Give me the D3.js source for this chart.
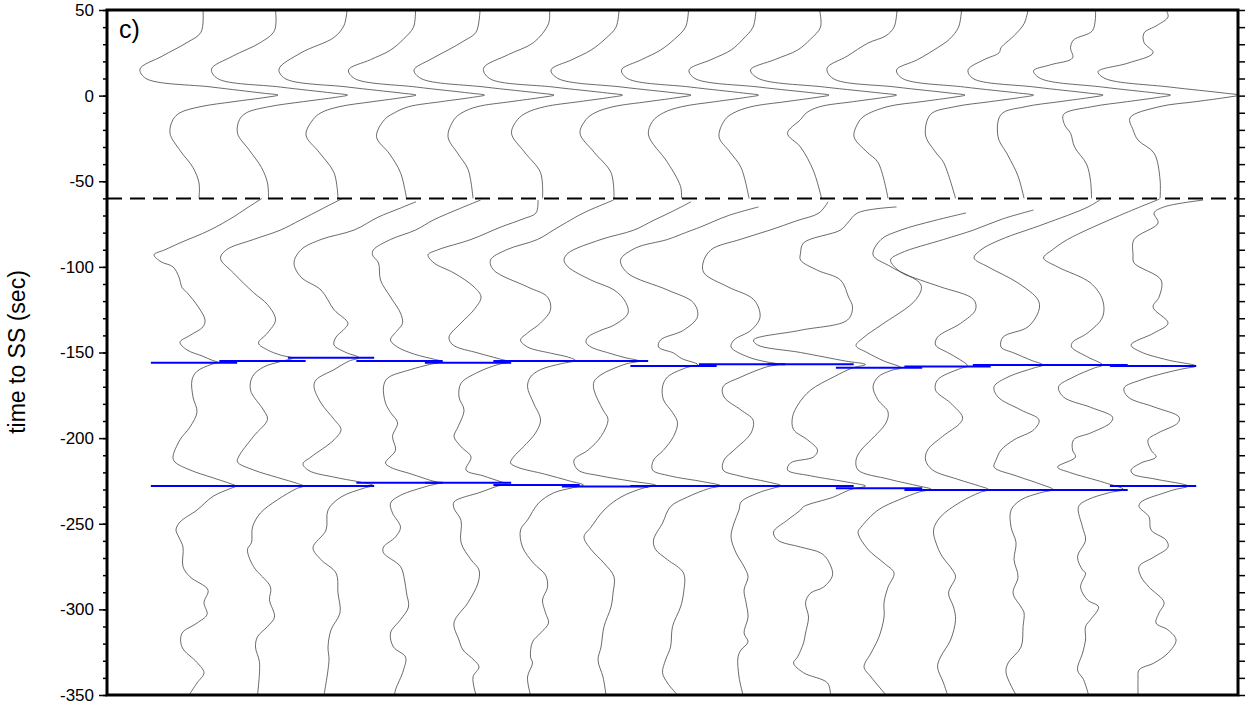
<!DOCTYPE html>
<html>
<head>
<meta charset="utf-8">
<title>time to SS</title>
<script src="https://d3js.org/d3.v7.min.js"></script>
<style>
  body { margin: 0; background: #fff; }
  svg { display: block; font-family: "Liberation Sans", Arial, sans-serif; }
</style>
</head>
<body>
<svg width="1245" height="707"></svg>
<script>
// trace numbers (left to right) and picked arrival times (sec, relative to SS)
var tracePos = [1, 2, 3, 4, 5, 6, 7, 8, 9, 10, 11, 12, 13, 14, 15];
var s400Times = [-156, -155, -153, -155, -156, -155, -155, -157.9, -156.9, -156.9, -158.9, -158.2, -157.3, -157.3, -157.9];
var s670Times = [-228, -228, -228, -226, -226, -227.4, -228.3, -228, -228, -228, -229.3, -230.3, -230.3, -230.3, -228];
var yTicks = [50, 0, -50, -100, -150, -200, -250, -300, -350];
var windowSplit = -60;

// waveform samples: [time (sec), amplitude (counts)] -- SS window
var up1 = [[50,9],[37,7],[31,-7],[23,-32],[15.5,-54],[10,-48],[5,18],[1.5,68],[0.3,84],[-1,72],[-3.5,40],[-6.5,6],[-10,-14],[-14,-21],[-22,-24],[-32,-14],[-42,-1],[-51,5],[-60,5]];
var up2 = [[50,13],[38,12],[31,-2],[23,-30],[15.5,-51],[10,-45],[5,18],[1.5,70],[0.3,85],[-1,73],[-3.5,41],[-6.5,6],[-10,-16],[-14,-23],[-22,-25],[-32,-13],[-42,-1],[-51,5],[-60,6]];
var up3 = [[50,16],[41,13],[34,3],[25,-30],[15.5,-52],[10,-46],[5,17],[1.5,70],[0.3,85],[-1,73],[-3.5,42],[-6.5,8],[-10,-10],[-14,-18],[-23,-25],[-33,-12],[-45,3],[-60,7]];
var up4 = [[50,16],[40,14],[33,4],[26.6,-9],[21,-29],[15,-51],[10,-45],[5,17],[1.5,70],[0.3,85],[-1,73],[-3.5,42],[-6.5,9],[-10,-5],[-14,-15],[-24,-23],[-34,-10],[-45,1],[-60,7]];
var up5 = [[50,12],[37,8],[32,-4],[26.6,-20],[21,-38],[15,-54],[10,-47],[5,17],[1.5,71],[0.3,86],[-1,74],[-3.5,43],[-6.5,9],[-10,-6],[-14,-14],[-24,-20],[-34,-10],[-43,0],[-60,5]];
var up6 = [[50,13],[42,12],[31,-3],[24,-28],[16,-53],[10,-47],[5,17],[1.5,71],[0.3,86],[-1,74],[-3.5,43],[-6.5,8],[-10,-10],[-14,-19],[-22,-25],[-33,-12],[-45,4],[-60,6]];
var up7 = [[50,14],[40,11],[33,0],[26.6,-14],[21,-33],[15,-54],[10,-47],[5,17],[1.5,71],[0.3,86],[-1,74],[-3.5,43],[-6.5,8],[-10,-10],[-14,-19],[-22,-25],[-33,-11],[-45,6],[-60,9]];
var up8 = [[50,15],[40,12],[33,1],[26.6,-13],[21,-32],[15,-52],[10,-46],[5,17],[1.5,70],[0.3,85],[-1,73],[-3.5,42],[-6.5,8],[-10,-10],[-15,-21],[-23,-25],[-39,-6],[-53,7],[-60,8]];
var up9 = [[50,14],[40,11],[33,1],[26.6,-11],[21,-31],[15,-53],[10,-47],[5,17],[1.5,72],[0.3,87],[-1,75],[-3.5,44],[-6.5,9],[-10,-8],[-14,-17],[-24,-23],[-33,-12],[-42,-1],[-60,7]];
var up10 = [[50,9],[40,10],[33,0],[26.6,-13],[21,-36],[15,-60],[10,-52],[5,14],[1.5,70],[0.3,86],[-1,74],[-3.5,43],[-6.5,9],[-10,-4],[-14,-10],[-22,-23],[-30,-10],[-44,3],[-60,11]];
var up11 = [[50,18],[40,15],[35,7],[30.7,-11],[23,-32],[16,-52],[10,-46],[5,17],[1.5,71],[0.3,86],[-1,74],[-3.5,43],[-6.5,8],[-12,-15],[-16,-21],[-24,-25],[-33,-12],[-39,-1],[-60,9]];
var up12 = [[50,14],[40,11],[33,2],[28,-10],[21,-30],[15,-51],[10,-45],[5,17],[1.5,71],[0.3,86],[-1,74],[-3.5,43],[-6.5,7],[-11,-17],[-23,-22],[-33,-12],[-39,-4],[-60,8]];
var up13 = [[50,12],[42,8],[35,-2],[28,-15],[25,-17],[21,-32],[15,-48],[10,-43],[5,19],[1.5,72],[0.3,87],[-1,75],[-3.5,44],[-6.5,9],[-11,-15],[-24,-18],[-35,-8],[-47,2],[-60,8]];
var up14 = [[50,11],[38,8],[32.5,-11],[28,-14],[22,-12],[18,-34],[14.5,-51],[10,-44],[5,18],[1.5,71],[0.3,86],[-1,74],[-3.5,43],[-6.5,7],[-11,-21],[-17,-20],[-22,-14],[-30,-10],[-40,2],[-50,6],[-60,7]];
var up15 = [[50,13],[46,15],[41,4],[36.6,-9],[31,-9],[25,0],[19,-25],[14,-55],[10,-48],[5,17],[1.5,71],[0.3,86],[-1,74],[-3.5,43],[-6.5,6],[-13,-23],[-20,-20],[-26,-15],[-33.6,1],[-49,7],[-60,7]];

// precursor window
var lo1 = [[-60,68],[-66,52],[-71,39],[-78.5,16],[-86,-14],[-90,-29],[-93,-40],[-97,-33],[-100,-21],[-106,-15],[-112,-12],[-115,-7],[-124,5],[-131,11],[-135,9],[-140,-4],[-144,-14],[-148.5,-7],[-152,8],[-154.5,18],[-155.8,24],[-157,17],[-161,3],[-166,-2],[-176,-1],[-184.7,3],[-193.5,-4],[-201,-14],[-211,-21],[-214,-19],[-218.6,-4],[-223,18],[-226.5,36],[-228,42],[-229.5,36],[-234,19],[-242,3],[-249,-14],[-253.6,-18],[-258,-15],[-263.6,-11],[-275,-11],[-281,-4],[-288.7,14],[-296,10],[-303,13],[-308,3],[-314,-12],[-322,-12],[-331,3],[-337,10],[-343,3],[-350,-5]];
var lo2 = [[-60,80],[-66,60],[-72.6,38],[-78.5,18],[-84,-9],[-90,-36],[-95,-42],[-103.6,-29],[-115,-9],[-122,5],[-131,13],[-138.6,5],[-144.5,-4],[-148.5,5],[-151.5,18],[-153.3,30],[-155,20],[-158.5,1],[-164,-10],[-172,-12],[-183.6,1],[-189,5],[-199,-9],[-211,-24],[-214,-25],[-218.6,-9],[-223,15],[-226.5,35],[-228,41],[-229.5,34],[-236,15],[-243.7,-2],[-251.9,-10],[-261,-11],[-265,-15],[-275,-9],[-287,8],[-294.5,7],[-304.5,12],[-310,5],[-316,-5],[-322,-7],[-331,-3],[-350,-5]];
var lo3 = [[-62,85],[-66,68],[-71,47],[-78.5,23],[-84,-10],[-90,-30],[-97.7,-37],[-106,-30],[-113.5,-10],[-125,3],[-133,17],[-137,12],[-141,5],[-145.6,3],[-150,15],[-153,28],[-155,18],[-160,3],[-166,-15],[-170,-17],[-179.5,-10],[-189,3],[-195,10],[-201,3],[-211,-20],[-215,-28],[-219,-22],[-223,5],[-226,32],[-227.6,42],[-229.2,33],[-234.4,10],[-242,-3],[-253.7,-5],[-264,-18],[-271,-10],[-278.8,5],[-290.5,7],[-302,9],[-312,0],[-322,-3],[-329.6,-2],[-350,-7]];
var lo4 = [[-61,81],[-66,60],[-72.6,34],[-78.5,16],[-84,-9],[-90,-26],[-93,-27],[-97.7,-21],[-107.7,-19],[-117.6,-9],[-127,1],[-133,3],[-137,-2],[-142.7,-9],[-146.8,-2],[-151,15],[-154,35],[-155.3,43],[-157,30],[-160,11],[-165,-12],[-170,-16],[-179.5,-14],[-185,-9],[-191,-2],[-199,-7],[-207,-4],[-214.5,-14],[-217,-9],[-221,12],[-224.5,30],[-226.2,39],[-228,28],[-233.4,1],[-238,-9],[-243.7,-7],[-252,1],[-257.7,-4],[-263.6,-16],[-267,-16],[-275,1],[-282.8,5],[-290.5,7],[-298.6,9],[-306,1],[-313.8,-9],[-322,-6],[-327.8,6],[-335.4,4],[-347,-4],[-350,-5]];
var lo5 = [[-61,70],[-68.5,68],[-72,55],[-76.7,33],[-84,3],[-90,-30],[-93,-40],[-97.7,-34],[-103.6,-14],[-111.7,6],[-117.6,13],[-125,6],[-132.8,-7],[-141,-19],[-145.6,-15],[-150.3,10],[-153.5,30],[-155.5,41],[-157,30],[-161.5,10],[-168,-7],[-176,-9],[-183.6,-4],[-193.5,-10],[-199,-14],[-205,-7],[-211,3],[-218.6,-2],[-222,15],[-225.3,32],[-226.5,38],[-228.3,28],[-231.5,13],[-237.3,-14],[-241,-14],[-248,-7],[-261,-7],[-271,3],[-277,11],[-284.6,10],[-296,0],[-307.8,-14],[-317.9,-9],[-323.7,-5],[-329.6,6],[-333.6,11],[-339.5,5],[-350,8]];
var lo6 = [[-61,77],[-68.5,47],[-74,30],[-78.5,17],[-84,1],[-90,-30],[-96,-46],[-101.8,-43],[-111.7,-9],[-117.6,11],[-125,14],[-132.8,4],[-138.6,-9],[-142.7,-16],[-146.8,-9],[-150.5,15],[-152.6,31],[-154.6,39],[-156.5,25],[-160,4],[-164.3,-6],[-170,-9],[-179.5,-3],[-189.4,4],[-197,-1],[-205,-13],[-211,-23],[-214.5,-26],[-217,-19],[-221,8],[-225,33],[-227.4,47],[-229,36],[-232,17],[-238,2],[-247.8,-9],[-253.6,-16],[-263.6,-14],[-273,-3],[-280,9],[-287,11],[-294.5,6],[-302,9],[-308,12],[-313.8,4],[-319,-4],[-327.8,-6],[-331.3,-4],[-339.5,-9],[-350,-6]];
var lo7 = [[-62,86],[-68,66],[-73,48],[-78.5,29],[-84,-4],[-92,-37],[-96,-41],[-100,-37],[-107.7,-14],[-113.5,9],[-120,20],[-127,23],[-134,9],[-137,-4],[-141,-17],[-144,-19],[-146.8,-14],[-150.5,5],[-153,20],[-155,34],[-156.5,22],[-160,6],[-163,-4],[-167,-11],[-172,-11],[-183.6,-2],[-189,3],[-199,-4],[-207,-17],[-212.8,-31],[-218.6,-27],[-222,-5],[-225,25],[-227.6,51],[-229.2,38],[-234.4,16],[-242,-1],[-252,-14],[-257.7,-21],[-265,-14],[-273,-1],[-281,9],[-290.5,8],[-298.6,6],[-310,-1],[-322,-4],[-329.6,-7],[-339.5,-2],[-350,1]];
var lo8 = [[-65,85],[-70,55],[-76.7,27],[-80,12],[-84,-6],[-89,-38],[-96,-53],[-103.6,-46],[-113.5,-6],[-121,20],[-129,24],[-137,10],[-142.7,-13],[-146.8,-15],[-150.3,0],[-153.5,8],[-157,24],[-159,12],[-164.3,-6],[-170,-11],[-177.7,-10],[-185,-1],[-191,4],[-199,0],[-207,-10],[-212.8,-20],[-218.6,-21],[-222,-4],[-225.5,30],[-227.8,47],[-229.5,35],[-234.4,14],[-240,-3],[-249.6,-11],[-259.5,-20],[-265,-18],[-271,-6],[-278.8,10],[-290.5,10],[-298.6,7],[-310,-1],[-322,-3],[-329.6,-8],[-337,-11],[-343,-6],[-350,4]];
var lo9 = [[-62,86],[-68.5,77],[-73,55],[-78.5,28],[-84,-2],[-90,-31],[-97.7,-39],[-103.6,-38],[-111.7,-14],[-119.3,12],[-129.3,18],[-137,9],[-142.7,-8],[-146.8,-11],[-152.6,6],[-155.2,22],[-156.9,36],[-158.5,24],[-164.3,-1],[-170,-19],[-176,-18],[-183.6,-1],[-189.4,11],[-197,9],[-207,-8],[-212.8,-18],[-218.6,-19],[-222,-3],[-225.5,25],[-227.8,39],[-229.4,30],[-232,16],[-237.3,-1],[-242,-3],[-249.6,-8],[-257.7,-11],[-267,-6],[-275,2],[-281,6],[-288.7,2],[-296,4],[-304.5,6],[-313.8,2],[-319,6],[-323.7,-1],[-327.8,-4],[-339.5,-3],[-350,1]];
var lo10 = [[-65,86],[-68.5,47],[-74.4,37],[-78.5,30],[-86,-7],[-92,-10],[-96,-10],[-102,7],[-107.7,30],[-117.6,38],[-123.5,42],[-131,37],[-137,-10],[-142.7,-57],[-145.6,-53],[-150,-10],[-155,35],[-157,55],[-159,42],[-164.3,23],[-172,0],[-180,-12],[-187.6,-18],[-195,-17],[-201,-3],[-207,7],[-211,3],[-214.5,-20],[-218.6,-23],[-222,0],[-226,40],[-228,55],[-230,40],[-234.4,23],[-240,-7],[-242,-10],[-247.8,-23],[-254.8,-37],[-259.5,-33],[-263.6,-10],[-267,10],[-271,17],[-279.9,22],[-287,13],[-290.5,0],[-296,-5],[-304.5,-2],[-313.8,-5],[-319.6,-7],[-327.8,-13],[-331.3,-17],[-337,-7],[-343,17],[-350,20]];
var lo11 = [[-68.5,87],[-73,55],[-78.5,22],[-84,2],[-93,-6],[-100,12],[-110.6,42],[-119,37],[-134,2],[-141,-15],[-146,-23],[-150,-12],[-155,5],[-158.9,22],[-160.5,12],[-164.3,-1],[-170,-6],[-177.7,-1],[-184.7,9],[-191,7],[-201,-8],[-207,-18],[-212.8,-23],[-218.6,-21],[-224,10],[-228,40],[-229.8,52],[-231.5,40],[-236,20],[-242,-1],[-252,-18],[-255,-21],[-265,-11],[-273,5],[-278.8,15],[-287,9],[-296,5],[-304.5,5],[-316,0],[-325.5,-8],[-333.6,-15],[-339.5,-8],[-350,7]];
var lo12 = [[-66.8,86],[-72,55],[-78.5,26],[-84,-4],[-92,-47],[-96,-57],[-103,-47],[-107.7,-27],[-111.7,-7],[-119,26],[-125,28],[-133,13],[-141,-10],[-145.6,-12],[-150,0],[-154,12],[-157.8,20],[-159.5,12],[-166,-10],[-172,-12],[-179.5,3],[-187.7,15],[-191,13],[-199,-5],[-207,-20],[-212.8,-22],[-218.6,-15],[-224,10],[-228,32],[-230,41],[-231.8,32],[-237.3,13],[-246,-7],[-253.6,-14],[-263.6,-10],[-269.4,-5],[-277,5],[-281,8],[-290.5,1],[-298.6,6],[-306,8],[-317.9,3],[-327.8,-7],[-333.6,-10],[-343,-4],[-350,0]];
var lo13 = [[-60.4,85],[-65,72],[-75,28],[-84,-15],[-90,-35],[-94.8,-42],[-100,-28],[-109.4,2],[-119.3,22],[-125,23],[-135,12],[-141,-13],[-146.8,-15],[-150.3,-2],[-154.5,15],[-157.3,27],[-159,18],[-164.3,-8],[-170,-22],[-176,-18],[-183.6,5],[-189.4,23],[-195,18],[-201,-2],[-207,-15],[-212.8,-20],[-216.9,-22],[-222,0],[-227,25],[-230,37],[-231.8,25],[-236,5],[-242,-5],[-252,-5],[-261,0],[-271,-2],[-281,2],[-290.5,-3],[-298.6,5],[-302,8],[-310,7],[-322,5],[-331.3,-8],[-337,-10],[-350,0]];
var lo14 = [[-60.4,75],[-70,35],[-84,-17],[-90,-32],[-94.8,-41],[-100,-27],[-109.4,6],[-119.3,18],[-129.3,18],[-138.6,3],[-144,-12],[-146.8,-13],[-152.6,3],[-157.3,18],[-159,10],[-164.3,-11],[-170,-26],[-176,-21],[-182,6],[-187.7,28],[-191,26],[-197,6],[-201,-11],[-207,-12],[-211,-9],[-216.9,-27],[-220,-15],[-226,20],[-230,39],[-231.8,25],[-236,3],[-240,-6],[-252,-2],[-259.5,1],[-269.4,-7],[-277,-2],[-278.8,1],[-287,-4],[-294.5,3],[-298.6,14],[-306,6],[-310,1],[-317.9,1],[-325.5,-2],[-335.4,-7],[-341,-1],[-350,4]];
var lo15 = [[-61,50],[-65,11],[-68.5,1],[-74.4,5],[-84,-19],[-93,-20],[-97.7,-19],[-107.7,8],[-117.6,6],[-123.5,0],[-132.8,15],[-138.6,1],[-145.6,-22],[-149.7,-12],[-154.4,15],[-157.9,43],[-159.5,30],[-162.1,11],[-166,-12],[-170.7,-29],[-176,-25],[-181.8,1],[-187.7,26],[-191,25],[-197,5],[-201,-5],[-207,-2],[-211,3],[-214.5,-12],[-218.6,-22],[-221,-20],[-224,3],[-228,35],[-230,22],[-232,11],[-237.3,-12],[-240,-14],[-246,-4],[-253.6,-2],[-259.5,13],[-263.6,15],[-269.4,1],[-275,-14],[-281,-12],[-287,-4],[-296,11],[-302,6],[-308,3],[-312,15],[-317.9,23],[-325.5,15],[-331.3,1],[-335.4,-14],[-341,-15],[-350,-15]];

var upperWaves = [up1, up2, up3, up4, up5, up6, up7, up8, up9, up10, up11, up12, up13, up14, up15];
var lowerWaves = [lo1, lo2, lo3, lo4, lo5, lo6, lo7, lo8, lo9, lo10, lo11, lo12, lo13, lo14, lo15];

var gain = 68.5;       // amplitude counts per trace spacing
var pickHalf = 0.63;   // half length of pick bars, in trace spacings

var svg = d3.select('svg');
var margin = {left: 107, top: 10, right: 1238, bottom: 695};

var y = d3.scaleLinear().domain([50, -350]).range([margin.top, margin.bottom]);
var x = d3.scaleLinear().domain([-0.27, 16.24]).range([margin.left, margin.right]);

svg.append('clipPath').attr('id', 'plot')
	.append('rect')
	.attr('x', margin.left).attr('y', margin.top)
	.attr('width', margin.right - margin.left)
	.attr('height', margin.bottom - margin.top);

var traces = svg.append('g').attr('clip-path', 'url(#plot)');

function waveLine(p) {
	return d3.line()
		.x(function(d) { return x(p + d[1] / gain); })
		.y(function(d) { return y(d[0]); })
		.curve(d3.curveCatmullRom.alpha(0.5));
}

tracePos.forEach(function(p, i) {
	[upperWaves[i], lowerWaves[i]].forEach(function(w) {
		traces.append('path')
			.attr('d', waveLine(p)(w))
			.attr('fill', 'none')
			.attr('stroke', '#3a3a3a')
			.attr('stroke-width', 0.75);
	});
});

// pick bars
[s400Times, s670Times].forEach(function(times) {
	traces.selectAll(null)
		.data(times)
		.enter()
		.append('line')
		.attr('x1', function(d, i) { return x(tracePos[i] - pickHalf); })
		.attr('x2', function(d, i) { return x(tracePos[i] + pickHalf); })
		.attr('y1', function(d) { return y(d); })
		.attr('y2', function(d) { return y(d); })
		.attr('stroke', '#0000ff')
		.attr('stroke-width', 2);
});

// window separator
svg.append('line')
	.attr('x1', margin.left).attr('x2', margin.right)
	.attr('y1', y(windowSplit)).attr('y2', y(windowSplit))
	.attr('stroke', '#000')
	.attr('stroke-width', 2)
	.attr('stroke-dasharray', '15,8');

// axes
var minorTicks = d3.range(50, -351, -10);

svg.append('g')
	.attr('transform', 'translate(' + margin.left + ',0)')
	.call(d3.axisLeft(y).tickValues(minorTicks).tickSize(4).tickFormat(''))
	.call(function(g) { g.select('.domain').remove(); })
	.selectAll('line').attr('stroke-width', 1.5);

svg.append('g')
	.attr('transform', 'translate(' + margin.left + ',0)')
	.call(d3.axisLeft(y).tickValues(yTicks).tickSize(8).tickPadding(5)
		.tickFormat(function(d) { return String(d); }))
	.call(function(g) { g.select('.domain').remove(); })
	.call(function(g) {
		g.selectAll('line').attr('stroke-width', 1.5);
		g.selectAll('text').attr('font-size', 17).attr('fill', '#000')
			.attr('font-family', '"Liberation Sans", Arial, sans-serif');
	});

svg.append('g')
	.attr('transform', 'translate(' + margin.right + ',0)')
	.call(d3.axisRight(y).tickValues(minorTicks).tickSize(7).tickFormat(''))
	.call(function(g) { g.select('.domain').remove(); })
	.selectAll('line').attr('stroke-width', 1.5);

svg.append('rect')
	.attr('x', margin.left).attr('y', margin.top)
	.attr('width', margin.right - margin.left)
	.attr('height', margin.bottom - margin.top)
	.attr('fill', 'none')
	.attr('stroke', '#000')
	.attr('stroke-width', 3);

svg.append('text')
	.attr('x', 119).attr('y', 38)
	.attr('font-size', 25)
	.text('c)');

svg.append('text')
	.attr('transform', 'translate(25,352) rotate(-90)')
	.attr('text-anchor', 'middle')
	.attr('font-size', 23)
	.text('time to SS (sec)');
</script>
</body>
</html>
